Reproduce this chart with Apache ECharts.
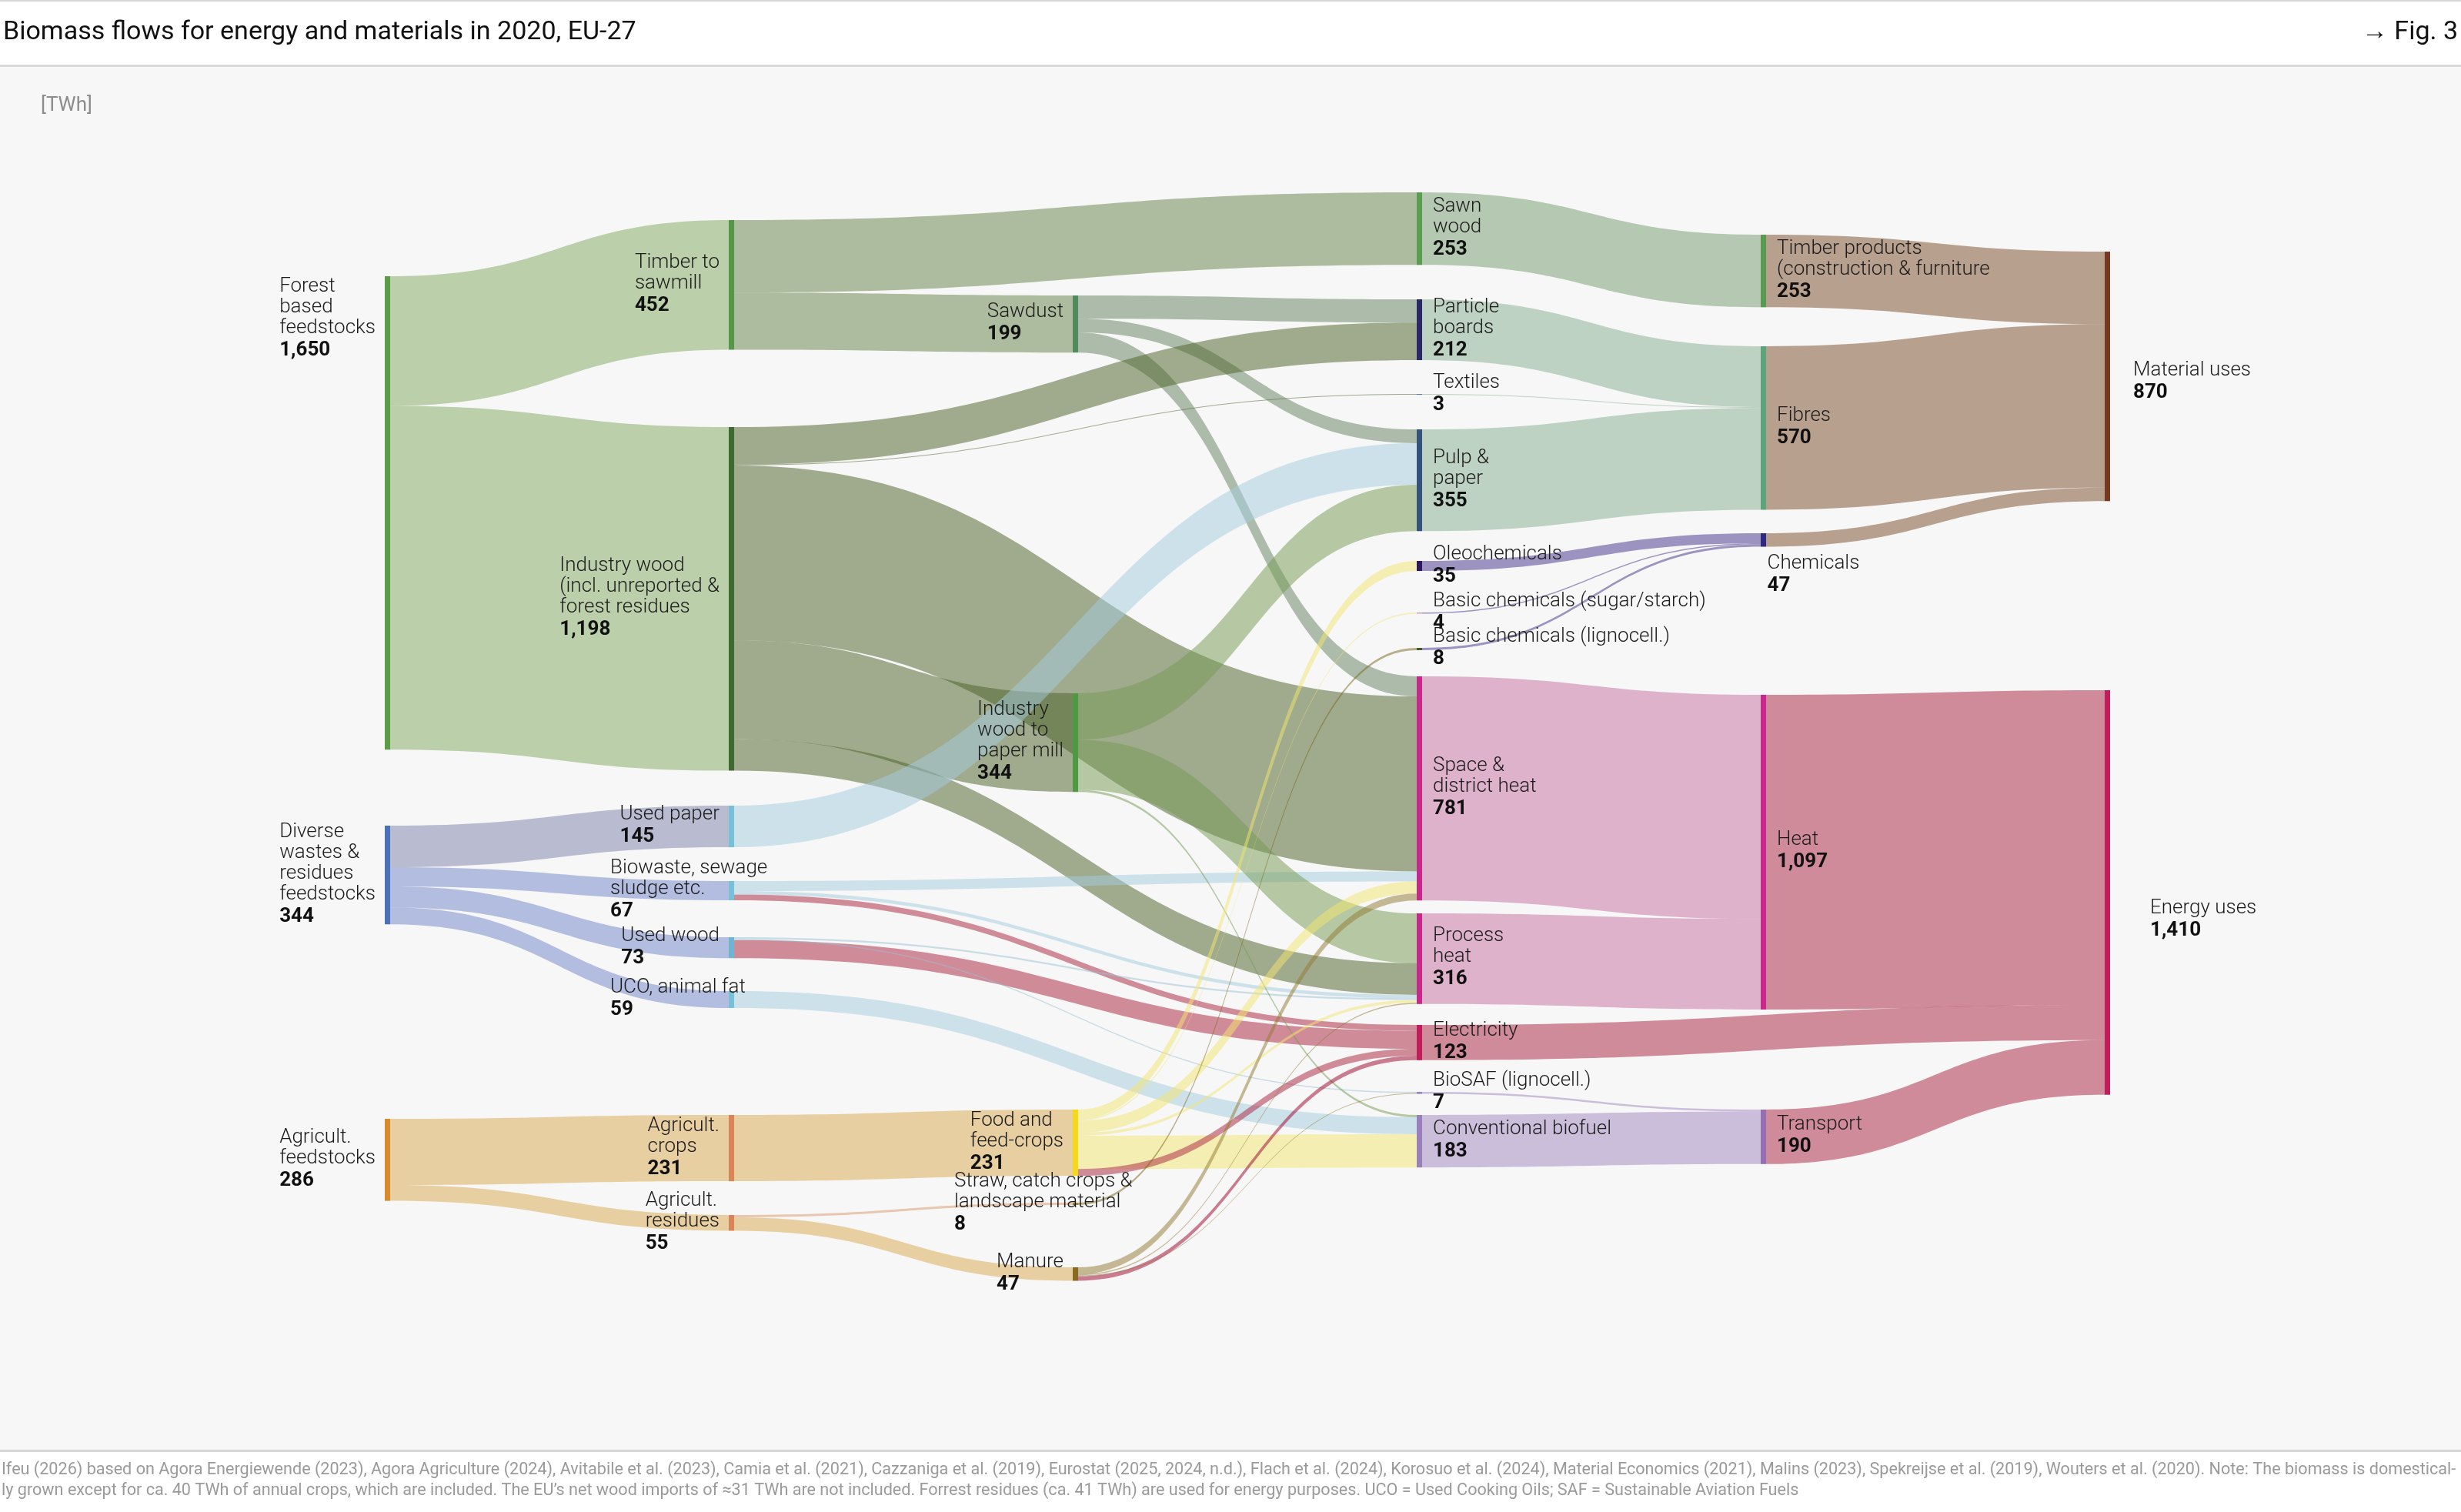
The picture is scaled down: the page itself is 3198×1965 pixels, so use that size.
<!DOCTYPE html>
<html>
<head>
<meta charset="utf-8">
<title>Biomass flows for energy and materials in 2020, EU-27</title>
<script src="https://cdn.jsdelivr.net/npm/echarts@6/dist/echarts.min.js"></script>
<style>
  html, body { margin: 0; padding: 0; background: #fff; }
  #chart { width: 3198px; height: 1965px; }
</style>
</head>
<body>
<div id="chart"></div>
<script>
// ---- data (TWh) ----
const nodeIds = ['forest', 'diverse', 'agri',
  'timber', 'indwood', 'usedpaper', 'biowaste', 'usedwood', 'uco', 'agcrops', 'agres',
  'sawdust', 'papermill', 'food', 'straw', 'manure',
  'sawnwood', 'particle', 'textiles', 'pulp', 'oleo', 'bcsugar', 'bcligno', 'spaceheat', 'processheat', 'electricity', 'biosaf', 'convbio',
  'timberprod', 'fibres', 'chemicals', 'heat', 'transport',
  'material', 'energy'];
const nodeText = ['Forest\nbased\nfeedstocks', 'Diverse\nwastes &\nresidues\nfeedstocks', 'Agricult.\nfeedstocks',
  'Timber to\nsawmill', 'Industry wood\n(incl. unreported &\nforest residues', 'Used paper', 'Biowaste, sewage\nsludge etc.', 'Used wood', 'UCO, animal fat', 'Agricult.\ncrops', 'Agricult.\nresidues',
  'Sawdust', 'Industry\nwood to\npaper mill', 'Food and\nfeed-crops', 'Straw, catch crops &\nlandscape material', 'Manure',
  'Sawn\nwood', 'Particle\nboards', 'Textiles', 'Pulp &\npaper', 'Oleochemicals', 'Basic chemicals (sugar/starch)', 'Basic chemicals (lignocell.)', 'Space &\ndistrict heat', 'Process\nheat', 'Electricity', 'BioSAF (lignocell.)', 'Conventional biofuel',
  'Timber products\n(construction & furniture', 'Fibres', 'Chemicals', 'Heat', 'Transport',
  'Material uses', 'Energy uses'];
const nodeDepth = [0, 0, 0, 1, 1, 1, 1, 1, 1, 1, 1, 2, 2, 2, 2, 2, 3, 3, 3, 3, 3, 3, 3, 3, 3, 3, 3, 3, 4, 4, 4, 4, 4, 5, 5];

const linkSource = ['forest', 'forest', 'diverse', 'diverse', 'diverse', 'diverse', 'agri', 'agri',
  'timber', 'timber', 'sawdust', 'sawdust', 'sawdust',
  'indwood', 'indwood', 'indwood', 'indwood', 'indwood',
  'usedpaper', 'biowaste', 'biowaste', 'biowaste', 'usedwood', 'usedwood', 'usedwood', 'uco', 'agcrops', 'agres', 'agres',
  'papermill', 'papermill', 'papermill',
  'food', 'food', 'food', 'food', 'food', 'food', 'straw', 'manure', 'manure', 'manure', 'manure',
  'sawnwood', 'particle', 'textiles', 'pulp', 'oleo', 'bcsugar', 'bcligno', 'spaceheat', 'processheat', 'electricity', 'biosaf', 'convbio',
  'timberprod', 'fibres', 'chemicals', 'heat', 'transport'];
const linkTarget = ['timber', 'indwood', 'usedpaper', 'biowaste', 'usedwood', 'uco', 'agcrops', 'agres',
  'sawnwood', 'sawdust', 'particle', 'pulp', 'spaceheat',
  'particle', 'textiles', 'spaceheat', 'papermill', 'processheat',
  'pulp', 'spaceheat', 'electricity', 'processheat', 'electricity', 'processheat', 'biosaf', 'convbio', 'food', 'straw', 'manure',
  'pulp', 'processheat', 'convbio',
  'oleo', 'bcsugar', 'spaceheat', 'processheat', 'convbio', 'electricity', 'bcligno', 'spaceheat', 'electricity', 'processheat', 'biosaf',
  'timberprod', 'fibres', 'fibres', 'fibres', 'chemicals', 'chemicals', 'chemicals', 'heat', 'heat', 'energy', 'transport', 'transport',
  'material', 'material', 'material', 'energy', 'energy'];
const linkValue = [452, 1198, 145, 67, 73, 59, 231, 55,
  253, 199, 81, 48, 70,
  131, 3, 610, 344, 110,
  145, 35, 20, 12, 63, 6, 4, 59, 231, 8, 47,
  162, 174, 8,
  35, 4, 42, 10, 116, 24, 8, 24, 16, 4, 3,
  253, 212, 3, 355, 35, 4, 8, 781, 316, 123, 7, 183,
  253, 570, 47, 1097, 190];

// ---- layout ----
// node tops in px
const nodeTop = {
  forest: 359, diverse: 1073, agri: 1454,
  timber: 286, indwood: 555, usedpaper: 1047, biowaste: 1145, usedwood: 1218, uco: 1288, agcrops: 1449, agres: 1579,
  sawdust: 384, papermill: 901, food: 1442, straw: 1563, manure: 1647,
  sawnwood: 250, particle: 389, textiles: 512, pulp: 558, oleo: 729, bcsugar: 796, bcligno: 842,
  spaceheat: 879, processheat: 1187, electricity: 1332, biosaf: 1419, convbio: 1449,
  timberprod: 305, fibres: 450, chemicals: 693, heat: 903, transport: 1442,
  material: 327, energy: 897
};
// ECharts stacks the flows at a node in the order their other ends come
// in its layout; hand it one ordered list so the stacking follows the original
const stackOrder = ['sawnwood', 'sawdust', 'usedpaper', 'particle', 'textiles', 'pulp', 'oleo', 'bcsugar', 'bcligno',
  'spaceheat', 'papermill', 'processheat', 'timber', 'indwood', 'biowaste', 'usedwood', 'uco', 'food', 'straw', 'manure',
  'biosaf', 'convbio', 'heat', 'electricity', 'transport', 'timberprod', 'fibres', 'chemicals',
  'forest', 'diverse', 'agri', 'agcrops', 'agres', 'material', 'energy'];
const LEFT = 500, TOP = 250, WIDTH = 2242, NODE_W = 7;
const KY = 850 / 2280;   // px per TWh
const GAP = 1;

// ---- styles ----
const FONT = 'Roboto, "Noto Sans", sans-serif';
const nodeColor = {
  forest: '#5b9d47', diverse: '#4b71b8', agri: '#d98b2b',
  timber: '#57964a', indwood: '#3e6a30', usedpaper: '#77c0d8', biowaste: '#77c0d8', usedwood: '#6cb6d1', uco: '#77c0d8', agcrops: '#d98559', agres: '#d98559',
  sawdust: '#4f8b5b', papermill: '#4e9a43', food: '#f3d81b', straw: '#9d8736', manure: '#8a6a1f',
  sawnwood: '#5a9d50', particle: '#2b2868', textiles: '#5b7fb0', pulp: '#34527c', oleo: '#2c1860', bcsugar: '#d59ac4', bcligno: '#3f5c2b',
  spaceheat: '#c8288c', processheat: '#c8288c', electricity: '#c11d5b', biosaf: '#9a80c0', convbio: '#9a7fbd',
  timberprod: '#5a9a50', fibres: '#5fa37c', chemicals: '#2e2a80', heat: '#c8288c', transport: '#9470b2',
  material: '#763a22', energy: '#c11d5b'
};
const flowColor = {
  forest: '#bbd0aa', timber: '#adbc9e', indwood: '#a0ab8e', diverse: '#b3bddf',
  usedpaper: '#cde1ea', biowaste: '#cde1ea', usedwood: '#c8dce6', uco: '#cde1ea',
  agri: '#e8cfa2', agcrops: '#e8cfa2', agres: '#e8cfa2', sawdust: '#adbcaa', papermill: '#b5c8a3',
  food: '#f5eeb2', straw: '#b7ad86', manure: '#c4b894',
  sawnwood: '#b5c8b2', particle: '#bed2c3', textiles: '#bed2c3', pulp: '#bed2c3',
  oleo: '#9d93c0', bcsugar: '#9d93c0', bcligno: '#9d93c0',
  spaceheat: '#dfb2cc', processheat: '#dfb2cc', biosaf: '#cbbedb', convbio: '#cbbedb', electricity: '#d08b9a',
  timberprod: '#b8a08f', fibres: '#b8a08f', chemicals: '#b8a08f', heat: '#d08b9a', transport: '#d08b9a'
};
function flowColorOf(s, t) {
  if (t === 'electricity') return s === 'manure' ? '#c97b90' : '#d08b99';
  if (s === 'diverse' && t === 'usedpaper') return '#b9bcd1';
  if (s === 'agres' && t === 'straw') return '#e9c6ae';
  return flowColor[s];
}
// colour seen on the #f7f7f7 background -> base colour drawn at opacity 0.5
function baseOf(hex) {
  const v = [1, 3, 5].map(k => parseInt(hex.substr(k, 2), 16));
  return 'rgb(' + v.map(c => Math.max(0, Math.min(255, 2 * c - 247))).join(',') + ')';
}

// ---- helpers ----
const inSum = {}, outSum = {};
linkSource.forEach((s, i) => {
  outSum[s] = (outSum[s] || 0) + linkValue[i];
  inSum[linkTarget[i]] = (inSum[linkTarget[i]] || 0) + linkValue[i];
});
const total = id => Math.max(inSum[id] || 0, outSum[id] || 0);
const fmt = v => v.toLocaleString('en-US');
const sumAll = nodeIds.reduce((a, id) => a + total(id), 0);
const HEIGHT = sumAll * KY + (nodeIds.length - 1) * GAP;
const colStep = (WIDTH - NODE_W) / 5;

const mctx = document.createElement('canvas').getContext('2d');
function textW(str, font) { mctx.font = font; return mctx.measureText(str).width; }
const NAME_FONT = '300 26px Roboto';
const VAL_FONT = 'bold 26px Roboto';

const rich = {
  n: { fontFamily: FONT, fontSize: 26, fontWeight: 300, lineHeight: 27, color: '#1b1b1b' },
  v: { fontFamily: FONT, fontSize: 26, fontWeight: 'bold', lineHeight: 31, color: '#111' }
};

function nodeLabel(id, i) {
  const d = nodeDepth[i];
  const text = nodeText[i];
  const lbl = {
    show: true,
    formatter: '{n|' + text + '}\n{v|' + fmt(total(id)) + '}',
    rich: rich
  };
  if (d <= 2) {
    const lines = text.split('\n');
    let w = Math.max(textW(fmt(total(id)), VAL_FONT), ...lines.map(l => textW(l, NAME_FONT)));
    if (id !== 'indwood') w = Math.min(w, 142);
    Object.assign(lbl, { position: 'left', distance: 12, align: 'left', offset: [-w, 0] });
    if (id === 'forest') {
      Object.assign(lbl, { position: [-12, 0], verticalAlign: 'top' });
    }
  } else if (d <= 4) {
    Object.assign(lbl, { position: 'right', distance: 14 });
    if (id === 'chemicals') {
      Object.assign(lbl, { position: 'bottom', distance: 8, align: 'left', verticalAlign: 'top', offset: [5, 0] });
    }
  } else {
    Object.assign(lbl, id === 'material'
      ? { position: 'right', distance: 30, offset: [0, 8] }
      : { position: 'right', distance: 52, offset: [0, 36] });
  }
  return lbl;
}

const nodes = stackOrder.map(id => {
  const i = nodeIds.indexOf(id);
  return {
    name: id,
    depth: 0,
    localX: nodeDepth[i] * colStep / WIDTH,
    localY: (nodeTop[id] - TOP) / HEIGHT,
    itemStyle: { color: nodeColor[id] },
    label: nodeLabel(id, i)
  };
});
const links = linkSource.map((s, i) => ({
  source: s,
  target: linkTarget[i],
  value: linkValue[i],
  lineStyle: { color: baseOf(flowColorOf(s, linkTarget[i])), opacity: 0.5 }
}));

const footer1 = 'Ifeu (2026) based on Agora Energiewende (2023), Agora Agriculture (2024), Avitabile et al. (2023), Camia et al. (2021), Cazzaniga et al. (2019), Eurostat (2025, 2024, n.d.), Flach et al. (2024), Korosuo et al. (2024), Material Economics (2021), Malins (2023), Spekreijse et al. (2019), Wouters et al. (2020). Note: The biomass is domestical-';
const footer2 = 'ly grown except for ca. 40 TWh of annual crops, which are included. The EU\u2019s net wood imports of \u224831 TWh are not included. Forrest residues (ca. 41 TWh) are used for energy purposes. UCO = Used Cooking Oils; SAF = Sustainable Aviation Fuels';

const chart = echarts.init(document.getElementById('chart'), null, { renderer: 'canvas' });
chart.setOption({
  animation: false,
  backgroundColor: '#f7f7f7',
  tooltip: { show: false },
  graphic: [
    { type: 'rect', silent: true, z: -10, shape: { x: 0, y: 0, width: 3198, height: 85 }, style: { fill: '#ffffff' } },
    { type: 'rect', silent: true, z: -9, shape: { x: 0, y: 0, width: 3198, height: 2 }, style: { fill: '#d6d6d6' } },
    { type: 'rect', silent: true, z: -9, shape: { x: 0, y: 84, width: 3198, height: 3 }, style: { fill: '#d9d9d9' } },
    { type: 'rect', silent: true, z: -10, shape: { x: 0, y: 1884, width: 3198, height: 81 }, style: { fill: '#ffffff' } },
    { type: 'rect', silent: true, z: -9, shape: { x: 0, y: 1884, width: 3198, height: 3 }, style: { fill: '#d6d6d6' } },
    { type: 'text', silent: true, x: 4, y: 42,
      style: { text: 'Biomass flows for energy and materials in 2020, EU-27', fontFamily: FONT, fontSize: 34, fill: '#111', verticalAlign: 'middle' } },
    { type: 'text', silent: true, x: 3194, y: 42,
      style: { text: '\u2192 Fig. 3', fontFamily: FONT, fontSize: 34, fill: '#111', align: 'right', verticalAlign: 'middle' } },
    { type: 'text', silent: true, x: 53, y: 137,
      style: { text: '[TWh]', fontFamily: FONT, fontSize: 26, fill: '#8c8c8c', verticalAlign: 'middle' } },
    { type: 'text', silent: true, x: 2, y: 1911,
      style: { text: footer1, fontFamily: FONT, fontSize: 21.6, fill: '#9a9a9a', verticalAlign: 'middle' } },
    { type: 'text', silent: true, x: 2, y: 1938,
      style: { text: footer2, fontFamily: FONT, fontSize: 21.6, fill: '#9a9a9a', verticalAlign: 'middle' } }
  ],
  series: [{
    type: 'sankey',
    left: LEFT,
    top: TOP,
    width: WIDTH,
    height: HEIGHT,
    nodeWidth: NODE_W,
    nodeGap: GAP,
    nodeAlign: 'left',
    layoutIterations: 0,
    draggable: false,
    emphasis: { disabled: true },
    lineStyle: { curveness: 0.5 },
    itemStyle: { borderWidth: 0 },
    label: { fontFamily: FONT, color: '#1b1b1b' },
    data: nodes,
    links: links
  }]
});
</script>
</body>
</html>
